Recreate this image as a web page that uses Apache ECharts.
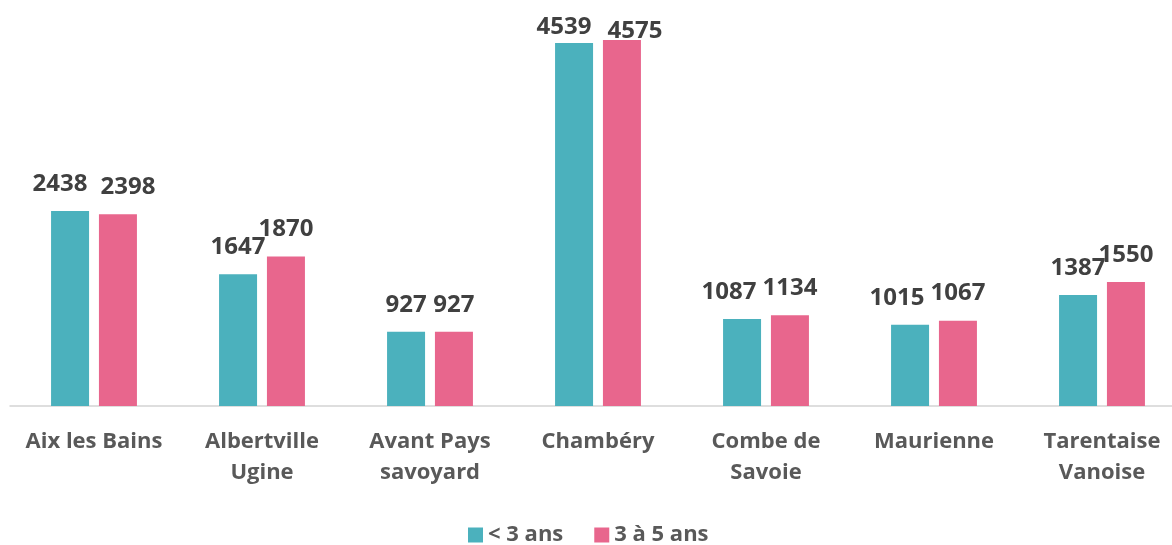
<!DOCTYPE html>
<html>
<head>
<meta charset="utf-8">
<script src="https://cdn.jsdelivr.net/npm/echarts@6/dist/echarts.min.js"></script>
<style>
  html, body { margin: 0; padding: 0; background: #fff; }
  #chart { width: 1172px; height: 545px; }
</style>
</head>
<body>
<div id="chart"></div>
<script>
// categories (line breaks as in the original axis labels)
var territories = [
  "Aix les Bains",
  "Albertville\nUgine",
  "Avant Pays\nsavoyard",
  "Chambéry",
  "Combe de\nSavoie",
  "Maurienne",
  "Tarentaise\nVanoise"
];
var moinsDe3Ans = [2438, 1647, 927, 4539, 1087, 1015, 1387];
var de3a5Ans = [2398, 1870, 927, 4575, 1134, 1067, 1550];
var seriesNames = ["< 3 ans", "3 à 5 ans"];

// labels that were nudged by hand in the original chart
var labelNudge = {
  0: [[-10, 0], [10, 0]],
  3: [[-10, 11], [13, 18]],
  4: [[-13, 0], [0, 0]],
  5: [[-13, 0], [0, 0]]
};

function buildData(values, s) {
  return values.map(function (v, i) {
    var n = labelNudge[i];
    if (!n) return v;
    return { value: v, label: { offset: n[s] } };
  });
}

var font = "'Open Sans', sans-serif";
var valueLabel = {
  show: true,
  position: "top",
  distance: 15,
  fontFamily: font,
  fontWeight: "bold",
  fontSize: 24,
  color: "#404040"
};

var chart = echarts.init(document.getElementById("chart"));
chart.setOption({
  animation: false,
  grid: { left: 10, width: 1176, top: 6, bottom: 139, outerBoundsMode: "none", containLabel: false },
  legend: {
    data: seriesNames,
    top: 519,
    left: 463,
    itemWidth: 15,
    itemHeight: 15,
    itemGap: 31,
    icon: "rect",
    textStyle: { fontFamily: font, fontWeight: "bold", fontSize: 22, color: "#595959" }
  },
  xAxis: {
    type: "category",
    data: territories,
    axisLine: { lineStyle: { color: "#d4d4d4", width: 1.5 } },
    axisTick: { show: false },
    axisLabel: {
      interval: 0,
      margin: 20,
      fontFamily: font,
      fontWeight: "bold",
      fontSize: 22,
      lineHeight: 31,
      color: "#595959"
    }
  },
  yAxis: {
    type: "value",
    min: 0,
    max: 5000,
    show: false,
    splitLine: { show: false }
  },
  series: [
    {
      name: seriesNames[0],
      type: "bar",
      data: buildData(moinsDe3Ans, 0),
      barWidth: 38,
      barGap: "26%",
      itemStyle: { color: "#4bb1bd" },
      label: valueLabel
    },
    {
      name: seriesNames[1],
      type: "bar",
      data: buildData(de3a5Ans, 1),
      barWidth: 38,
      itemStyle: { color: "#e8668d" },
      label: valueLabel
    }
  ]
});
</script>
</body>
</html>
